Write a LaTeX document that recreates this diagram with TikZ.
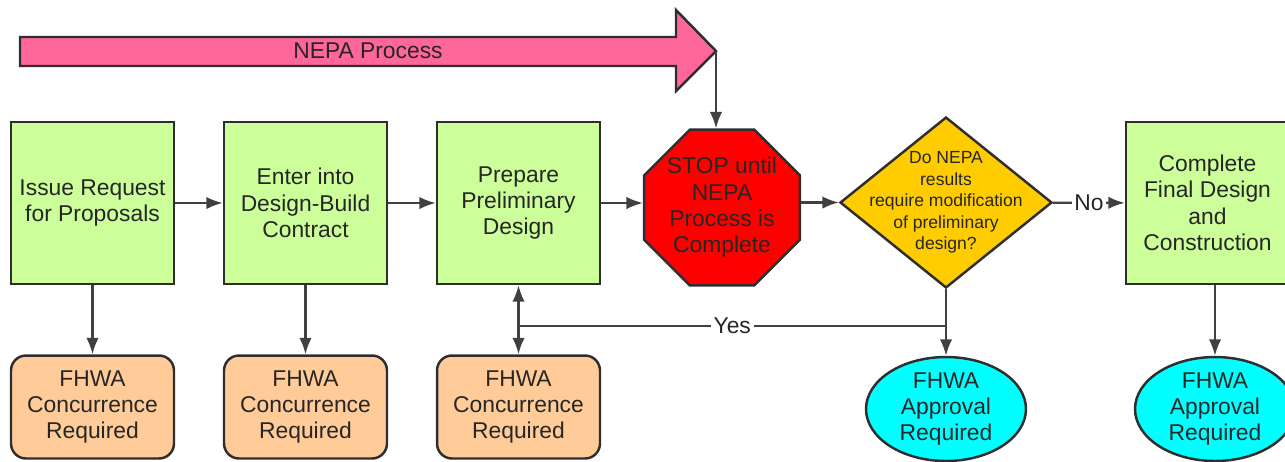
\documentclass[tikz,border=0pt]{standalone}
\usepackage{fontspec}
\setmainfont{Liberation Sans}
\usetikzlibrary{shapes.geometric,arrows.meta}
\definecolor{gruen}{HTML}{CCFF99}
\definecolor{apricot}{HTML}{FFCC99}
\definecolor{gelb}{HTML}{FFCC00}
\definecolor{rosa}{HTML}{FF6699}
\definecolor{tuerkis}{HTML}{00FFFF}
\definecolor{rand}{HTML}{2E2E2E}
\definecolor{strich}{HTML}{404040}

\begin{document}
\begin{tikzpicture}[x=0.02cm, y=-0.02cm,
	every node/.style={font=\fontsize{13}{15}\selectfont, align=center, text=black!85},
	linie/.style={draw=strich, line width=1.3pt},
	pfeil/.style={linie, -{Latex[length=3.3mm,width=2.5mm]}},
	kasten/.style={draw=rand, line width=1.4pt, fill=gruen, minimum width=3.26cm, minimum height=3.24cm, inner sep=2pt},
	fhwa/.style={draw=rand, line width=1.4pt, fill=apricot, rounded corners=0.3cm, minimum width=3.26cm, minimum height=2.06cm, inner sep=2pt},
	genehm/.style={draw=rand, line width=1.4pt, fill=tuerkis, ellipse, minimum width=3.2cm, minimum height=2.08cm, inner sep=0pt}]
		\useasboundingbox (0,0) rectangle (1285,461);
		
		%NEPA-Pfeil
		\draw[draw=rand, line width=1.4pt, fill=rosa] (20,37) -- (676,37) -- (676,10) -- (716,51) -- (676,91) -- (676,66) -- (20,66) -- cycle;
		\node (nepa) at (368,51) {NEPA Process};
		\coordinate (spitze) at (716,51);
		
		%Kästen
		\node[kasten] (b1) at (92.5,203) {Issue Request\\for Proposals};
		\node[kasten] (b2) at (305.5,203) {Enter into\\Design-Build\\Contract};
		\node[kasten] (b3) at (518.5,203) {Prepare\\Preliminary\\Design};
		\node[kasten] (fin) at (1207.5,203) {Complete\\Final Design\\and\\Construction};
		
		\node[draw=rand, line width=1.4pt, fill=red, regular polygon, regular polygon sides=8, minimum size=3.31cm, inner sep=0pt] (stop) at (722,207.5) {STOP until\\NEPA\\Process is\\Complete};
		
		\node[draw=rand, line width=1.4pt, fill=gelb, diamond, minimum width=4.24cm, minimum height=3.42cm, inner sep=0pt,
			label={[name=frage, font=\fontsize{10}{12.3}\selectfont, align=center]center:Do NEPA\\results\\require modification\\of preliminary\\design?}] (ask) at (946,202.5) {};
		
		%FHWA
		\foreach \i/\x in {1/92.5, 2/305.5, 3/518.5} {
			\node[fhwa] (o\i) at (\x,407) {FHWA\\Concurrence\\Required};
		}
		\node[genehm] (e1) at (946,409) {FHWA\\Approval\\Required};
		\node[genehm] (e2) at (1215,409) {FHWA\\Approval\\Required};
		
		%Verbindungen
		\draw[pfeil] (b1) -- (b2);
		\draw[pfeil] (b2) -- (b3);
		\draw[pfeil] (b3) -- (b3 -| stop.west);
		\draw[pfeil] (stop.east |- ask) -- (ask);
		\draw[pfeil] (ask) -- node[fill=white, inner sep=1.5pt] (nein) {No} (fin);
		\draw[pfeil] (spitze) -- (spitze |- stop.north);
		
		\draw[pfeil] (b1) -- (o1);
		\draw[pfeil] (b2) -- (o2);
		\draw[pfeil] (fin.south -| e2) -- (e2);
		\draw[pfeil] (ask) -- (e1);
		
		\coordinate (knick) at (518.5,326);
		\draw[linie] (ask.south |- knick) -- node[fill=white, inner sep=1.5pt] (ja) {Yes} (knick);
		\draw[pfeil] (knick) -- (b3);
		\draw[pfeil] (knick) -- (o3);
	\end{tikzpicture}
\end{document}
